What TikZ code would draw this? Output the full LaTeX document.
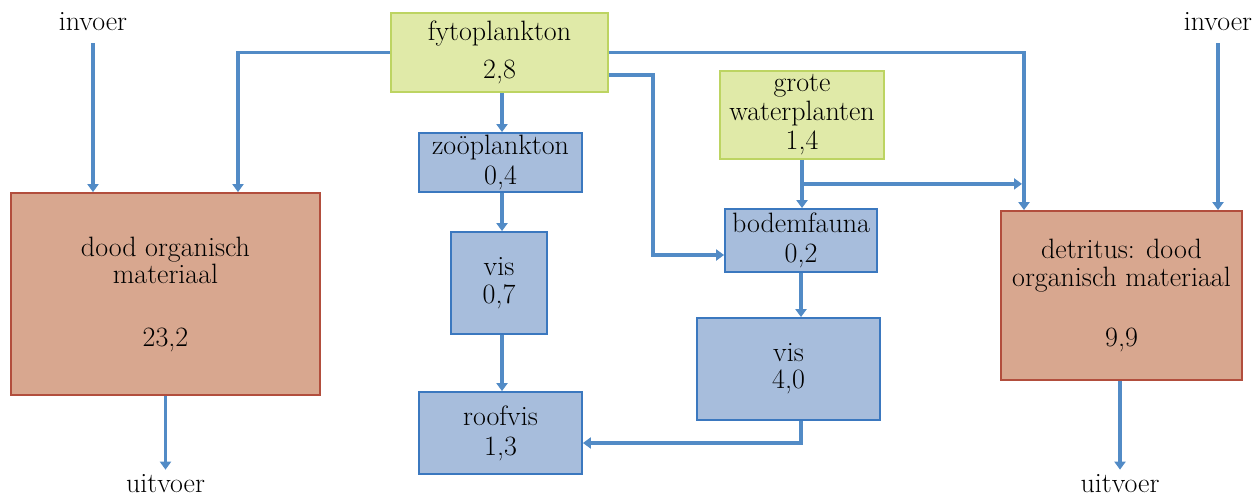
\documentclass[tikz,border=0pt]{standalone}
\usepackage{fontspec}
\usetikzlibrary{arrows.meta}
\definecolor{arrowblue}{HTML}{528BC6}
\definecolor{boxblue}{HTML}{A7BDDC}
\definecolor{boxblueline}{HTML}{3B78BF}
\definecolor{plantfill}{HTML}{E0EAA8}
\definecolor{plantline}{HTML}{BDD462}
\definecolor{deadfill}{HTML}{D8A78F}
\definecolor{deadline}{HTML}{B24E3D}
\tikzset{
  base/.style={rectangle, inner sep=0pt, align=center, font=\fontsize{28}{29}\selectfont, line width=1.8pt},
  bluebox/.style={base, draw=boxblueline, fill=boxblue},
  plantbox/.style={base, draw=plantline, fill=plantfill},
  deadbox/.style={base, draw=deadline, fill=deadfill},
  label/.style={inner sep=0pt, font=\fontsize{28}{29}\selectfont},
  arr/.style={draw=arrowblue, line width=3.4pt, -{Triangle[length=8pt,width=11pt]}}
}
\begin{document}
\begin{tikzpicture}[x=1pt,y=-1pt]
\useasboundingbox (0,0) rectangle (1256,498);
% nodes
\node[deadbox, minimum width=309pt, minimum height=202pt] (dodL) at (165.5,294) {dood organisch\\[-2pt]materiaal\\[34pt]23,2};
\node[deadbox, minimum width=241pt, minimum height=169pt] (det) at (1121.5,295.5) {detritus: dood\\[-1pt]organisch materiaal\\[31pt]9,9};
\node[plantbox, minimum width=217pt, minimum height=79pt] (fyto) at (499.5,52.5) {fytoplankton\\[9pt]2,8};
\node[plantbox, minimum width=164pt, minimum height=88pt] (grote) at (802,115) {grote\\waterplanten\\1,4};
\node[bluebox, minimum width=163pt, minimum height=59pt] (zoo) at (500.5,162.5) {zo\"oplankton\\[1pt]0,4};
\node[bluebox, minimum width=96pt, minimum height=102pt] (visA) at (499,283) {vis\\[-1pt]0,7};
\node[bluebox, minimum width=163pt, minimum height=82pt] (roof) at (500.5,433) {roofvis\\[1pt]1,3};
\node[bluebox, minimum width=152pt, minimum height=63pt] (bodem) at (801,240.5) {bodemfauna\\[1pt]0,2};
\node[bluebox, minimum width=183pt, minimum height=102pt] (visB) at (788.5,369) {vis\\[-2pt]4,0};
\node[label] (invL) at (93,22) {invoer};
\node[label] (invR) at (1218,22) {invoer};
\node[label] (uitL) at (165.5,484) {uitvoer};
\node[label] (uitR) at (1120,484) {uitvoer};
% connectors
\draw[arr] ([yshift=-12pt]invL.south) -- (invL.south |- dodL.north);
\draw[arr] ([yshift=-12pt]invR.south) -- (invR.south |- det.north);
\draw[arr] (dodL.south) -- ([yshift=5pt]uitL.north);
\draw[arr] (det.south -| uitR.north) -- ([yshift=5pt]uitR.north);
\draw[arr] (fyto.west) -| ([xshift=72.5pt]dodL.north);
\draw[arr] (fyto.east) -| ([xshift=-97.5pt]det.north);
\draw[arr] ([yshift=-22.5pt]fyto.east) -- ++(44,0) |- ([yshift=-14.5pt]bodem.west);
\draw[arr] ([xshift=2.5pt]fyto.south) -- ([xshift=2.5pt]fyto.south |- zoo.north);
\draw[arr] ([xshift=1.5pt]zoo.south) -- ([xshift=1.5pt]zoo.south |- visA.north);
\draw[arr] ([xshift=3pt]visA.south) -- ([xshift=3pt]visA.south |- roof.north);
\draw[arr] ([xshift=12.5pt]visB.south) |- ([yshift=-10pt]roof.east);
\draw[arr] (bodem.south) -- (bodem.south |- visB.north);
\draw[arr] (grote.south) -- (grote.south |- bodem.north);
\draw[arr] ([yshift=-24pt]grote.south) -- ++(220,0);
\end{tikzpicture}
\end{document}
